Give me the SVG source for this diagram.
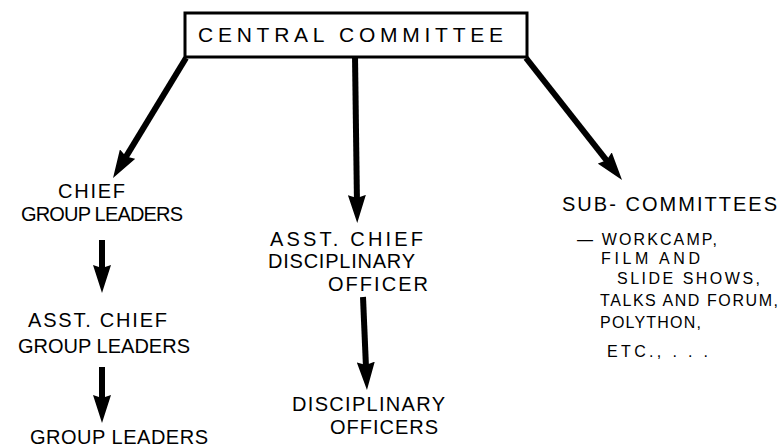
<svg xmlns="http://www.w3.org/2000/svg" width="781" height="448" viewBox="0 0 781 448">
  <style>
    .t { font-family: "Liberation Sans", "DejaVu Sans", sans-serif; font-size: 20px; fill: #000; }
    .big { font-size: 21px; }
    .list { font-size: 16px; }
    .box { fill: #fff; stroke: #000; stroke-width: 3; }
    .shaft { stroke: #000; stroke-width: 6; stroke-linecap: butt; fill: none; }
  </style>
  <defs>
    <!-- filled arrowhead; the shaft ends 10px inside the head -->
    <marker id="head" viewBox="0 0 28 18" refX="10" refY="9" markerWidth="28" markerHeight="18" orient="auto" markerUnits="userSpaceOnUse">
      <path d="M0,0 L28,9 L0,18 L3,9 Z" fill="#000"/>
    </marker>
  </defs>
  <rect width="781" height="448" fill="#fff"/>

  <g id="connectors">
    <line class="shaft" x1="186" y1="58" x2="122.4" y2="162.6" marker-end="url(#head)"/>
    <line class="shaft" x1="355" y1="56" x2="357" y2="205" marker-end="url(#head)"/>
    <line class="shaft" x1="526" y1="58" x2="610.9" y2="165.8" marker-end="url(#head)"/>
    <line class="shaft" x1="102" y1="240" x2="102" y2="275" marker-end="url(#head)"/>
    <line class="shaft" x1="102" y1="367" x2="102" y2="405" marker-end="url(#head)"/>
    <line class="shaft" x1="363" y1="297" x2="366.2" y2="372" marker-end="url(#head)"/>
  </g>

  <g id="central-committee">
    <rect class="box" x="185" y="13" width="342" height="44"/>
    <text class="t big" x="198" y="42" textLength="305" lengthAdjust="spacing">CENTRAL   COMMITTEE</text>
  </g>

  <g id="chief-group-leaders">
    <text class="t" x="58" y="198" textLength="67" lengthAdjust="spacing">CHIEF</text>
    <text class="t" x="21" y="221" textLength="162" lengthAdjust="spacing">GROUP LEADERS</text>
  </g>

  <g id="asst-chief-group-leaders">
    <text class="t" x="28" y="327" textLength="139" lengthAdjust="spacing">ASST.  CHIEF</text>
    <text class="t" x="18" y="353" textLength="172" lengthAdjust="spacing">GROUP  LEADERS</text>
  </g>

  <g id="group-leaders">
    <text class="t" x="30" y="444" textLength="178" lengthAdjust="spacing">GROUP   LEADERS</text>
  </g>

  <g id="asst-chief-disciplinary-officer">
    <text class="t" x="270" y="246" textLength="153" lengthAdjust="spacing">ASST.   CHIEF</text>
    <text class="t" x="268" y="268" textLength="147" lengthAdjust="spacing">DISCIPLINARY</text>
    <text class="t" x="328" y="291" textLength="100" lengthAdjust="spacing">OFFICER</text>
  </g>

  <g id="disciplinary-officers">
    <text class="t" x="292" y="411" textLength="153" lengthAdjust="spacing">DISCIPLINARY</text>
    <text class="t" x="330" y="434" textLength="108" lengthAdjust="spacing">OFFICERS</text>
  </g>

  <g id="sub-committees">
    <text class="t" x="562" y="211" textLength="215" lengthAdjust="spacing">SUB- COMMITTEES</text>
    <text class="t list" x="577" y="245" textLength="140" lengthAdjust="spacing">— WORKCAMP,</text>
    <text class="t list" x="601" y="264" textLength="99" lengthAdjust="spacing">FILM  AND</text>
    <text class="t list" x="617" y="284" textLength="143" lengthAdjust="spacing">SLIDE SHOWS,</text>
    <text class="t list" x="600" y="306" textLength="178" lengthAdjust="spacing">TALKS AND  FORUM,</text>
    <text class="t list" x="600" y="328" textLength="101" lengthAdjust="spacing">POLYTHON,</text>
    <text class="t list" x="607" y="357" textLength="101" lengthAdjust="spacing">ETC., . . .</text>
  </g>
</svg>
